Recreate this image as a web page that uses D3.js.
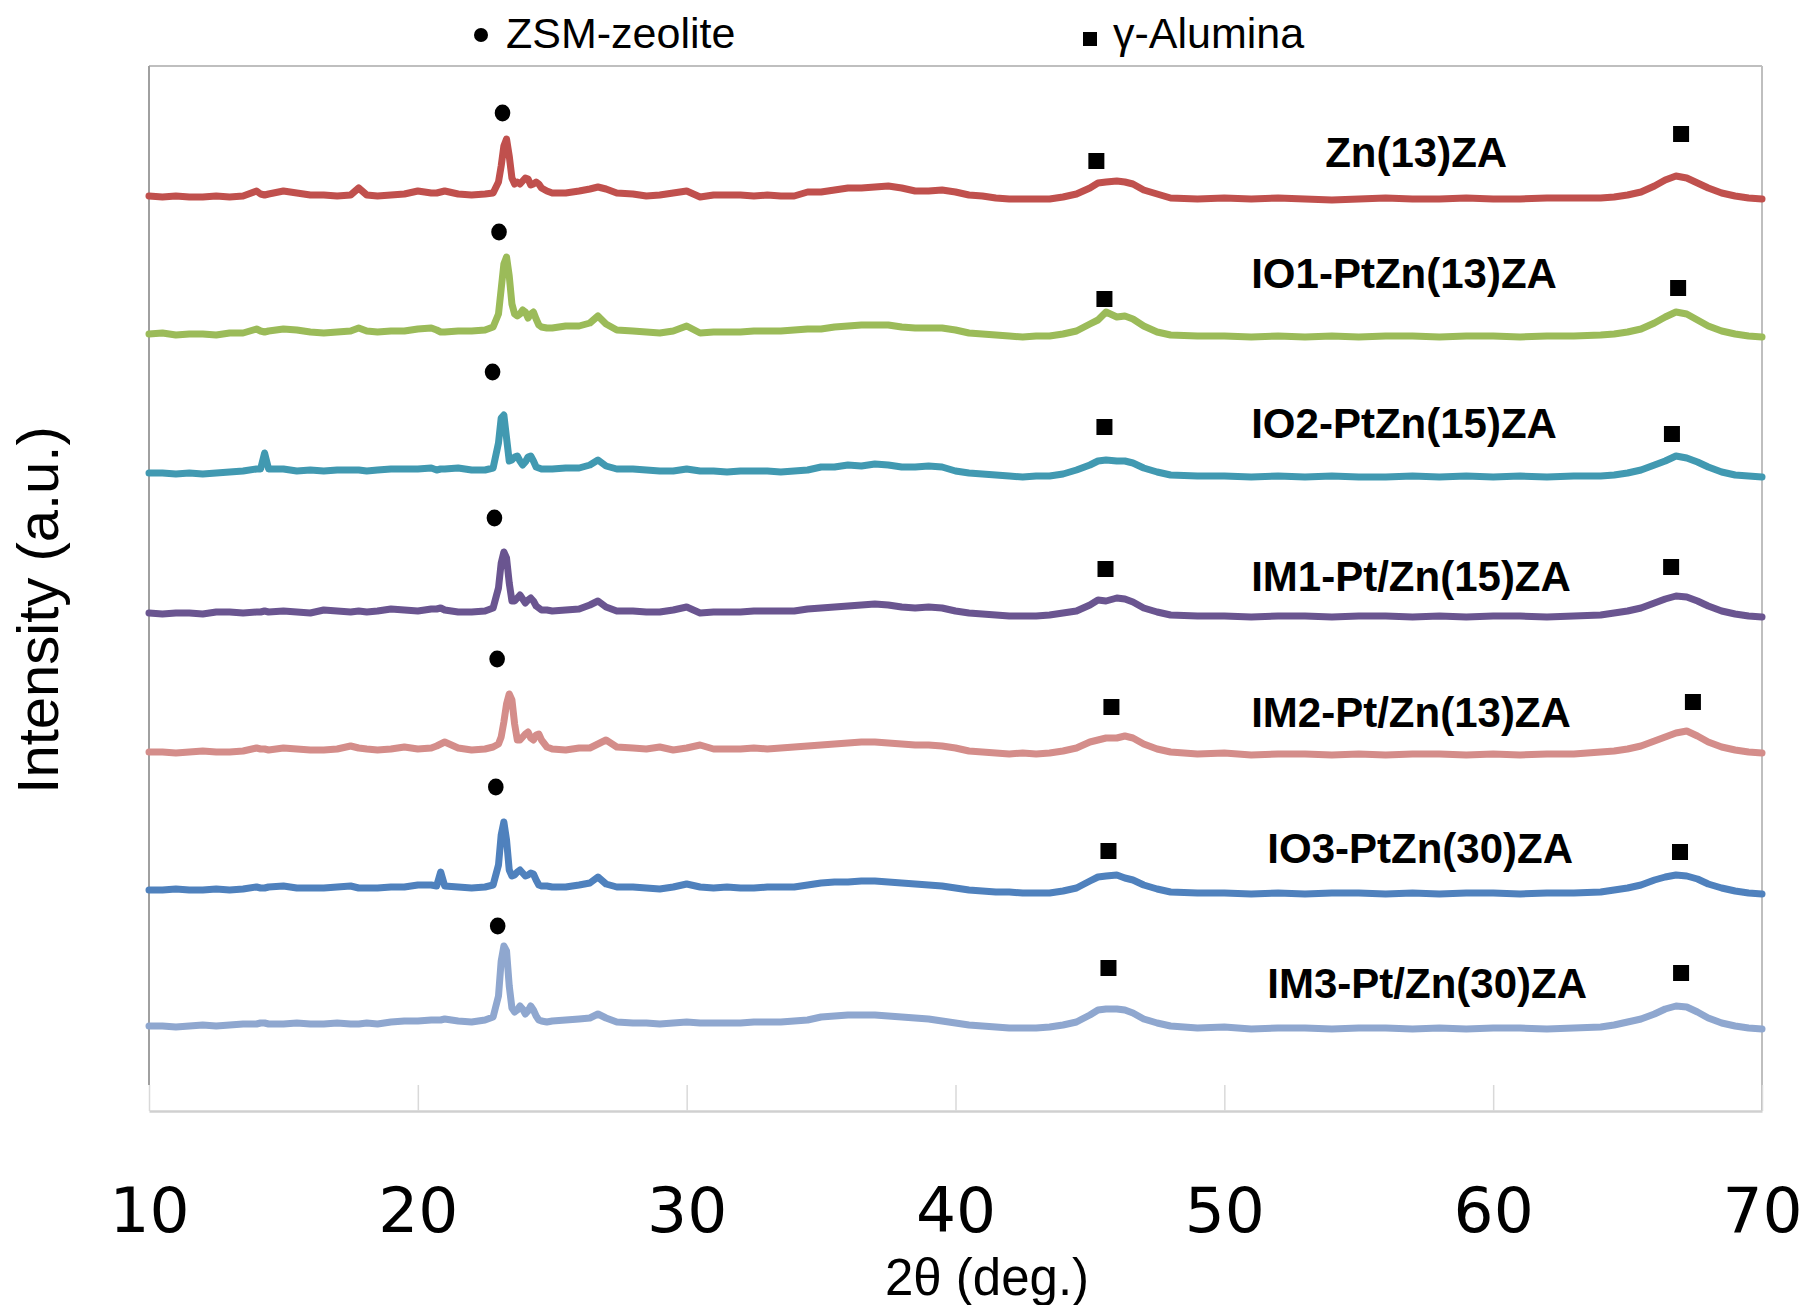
<!DOCTYPE html>
<html>
<head>
<meta charset="utf-8">
<script src="https://cdn.jsdelivr.net/npm/d3@7/dist/d3.min.js"></script>
<style>
  html, body { margin: 0; padding: 0; background: #ffffff; }
  svg { display: block; }
</style>
</head>
<body>
<svg id="chart" width="1812" height="1305"></svg>
<script>
// ---------------- DATA ----------------
const twoTheta = [
  10,10.5,11,11.5,12,12.5,13,13.5,14,
  14.15,14.3,14.45,
  15,15.5,16,16.5,17,17.5,
  17.8,18.1,18.5,
  19,19.5,20,20.5,
  20.7,20.85,21,
  21.5,22,22.5,22.8,
  23,23.1,23.2,23.3,23.4,23.5,23.6,23.7,23.8,23.9,24,24.1,24.2,24.3,24.4,24.5,24.6,
  24.8,25,25.5,26,26.4,26.7,27,27.4,
  28,28.5,29,29.5,30,30.5,31,31.5,32,32.5,33,33.5,34,34.5,35,35.5,36,36.5,37,37.5,38,38.5,39,39.5,40,40.5,41,41.5,42,42.5,43,43.5,44,44.5,
  45,45.3,45.6,46,46.3,46.6,47,47.5,
  48,49,50,51,52,53,54,55,56,57,58,59,60,61,62,63,64,
  64.5,65,65.5,66,66.4,66.8,67.2,67.6,68,68.5,69,69.5,70
];

const xTicks = [10, 20, 30, 40, 50, 60, 70];

const seriesNames = [
  "Zn(13)ZA", "IO1-PtZn(13)ZA", "IO2-PtZn(15)ZA", "IM1-Pt/Zn(15)ZA",
  "IM2-Pt/Zn(13)ZA", "IO3-PtZn(30)ZA", "IM3-Pt/Zn(30)ZA"
];

// vertical stacking offsets (a.u.)
const offsets = [915, 777, 638, 498, 359, 221, 85];

const zn13ZA = [
  0,-1,0,-1,-1,0,-1,0,5,
  2,1,2,
  5,3,1,1,0,1,
  8,1,0,
  1,2,5,3,
  3,4,5,
  2,1,2,3,
  14,30,50,57,40,18,12,14,12,15,18,17,11,12,14,12,8,
  5,3,3,5,7,9,7,3,
  2,0,1,3,5,-1,1,1,1,0,1,0,0,4,4,6,8,8,9,10,8,5,5,6,4,1,0,-2,-3,-3,-3,-3,-1,2,
  8,13,14,15,14,12,6,2,
  -2,-3,-2,-3,-2,-3,-4,-3,-2,-3,-3,-2,-3,-3,-2,-2,-2,
  -1,1,4,10,16,20,18,13,8,3,0,-2,-3
];
const io1PtZn13ZA = [
  0,1,-1,0,0,-1,1,1,5,
  3,2,3,
  5,4,2,1,2,3,
  6,3,2,
  3,3,5,6,
  4,2,2,
  3,3,4,7,
  20,45,70,77,58,30,20,18,20,24,22,16,20,22,15,9,7,
  6,6,8,8,11,18,10,4,
  3,2,1,3,8,1,2,2,2,3,3,3,4,5,5,7,8,9,9,9,7,6,6,6,4,1,0,-1,-2,-3,-2,-2,0,3,
  10,14,22,17,18,15,8,2,
  -1,-2,-2,-3,-2,-3,-2,-3,-2,-2,-3,-2,-2,-3,-2,-2,-1,
  0,2,5,11,17,22,20,14,8,3,0,-2,-3
];
const io2PtZn15ZA = [
  0,0,-1,0,-1,0,1,2,4,
  4,20,4,
  4,2,3,2,3,3,
  3,2,3,
  4,4,4,5,
  3,4,4,
  5,3,3,5,
  30,55,58,35,12,13,16,17,12,8,11,16,17,12,6,5,4,
  4,4,5,5,8,13,7,4,
  4,3,2,2,4,2,2,1,2,2,2,1,2,3,6,6,8,7,9,8,6,6,7,6,2,0,-1,-2,-3,-4,-3,-3,-1,3,
  8,12,13,12,12,10,5,1,
  -2,-3,-3,-4,-3,-4,-3,-4,-4,-3,-4,-3,-4,-3,-4,-3,-3,
  -2,0,3,8,12,17,15,11,6,1,-2,-3,-4
];
const im1PtZn15ZA = [
  0,-1,0,0,-1,1,1,0,1,
  1,2,1,
  2,1,0,3,2,1,
  2,1,2,
  4,3,2,4,
  4,5,3,
  1,1,2,5,
  25,50,61,55,30,12,12,15,18,14,10,13,15,12,7,5,3,
  3,2,3,4,8,12,6,2,
  2,1,1,3,6,0,1,1,1,2,2,2,2,4,5,6,7,8,9,8,6,5,6,5,2,0,-1,-2,-3,-3,-3,-2,0,2,
  8,13,12,15,14,11,5,1,
  -2,-3,-3,-4,-3,-3,-4,-3,-3,-4,-3,-4,-3,-3,-4,-3,-2,
  0,2,5,10,14,17,16,12,7,2,-1,-3,-4
];
const im2PtZn13ZA = [
  0,0,-1,0,1,0,0,1,4,
  3,3,2,
  4,3,2,2,3,6,
  4,3,2,
  3,5,3,4,
  6,8,10,
  4,2,3,5,
  8,15,30,48,58,52,28,12,12,15,18,20,14,12,17,18,12,
  5,3,2,4,4,8,12,5,
  4,3,5,2,4,7,3,3,3,4,3,4,5,6,7,8,9,10,10,9,8,7,7,6,4,1,0,-1,-2,-1,-2,-1,1,4,
  10,12,14,14,16,14,8,3,
  0,-2,-1,-3,-2,-2,-3,-2,-3,-2,-2,-3,-2,-3,-2,-2,0,
  1,3,6,11,15,19,21,16,10,5,2,0,-1
];
const io3PtZn30ZA = [
  0,0,1,0,0,1,0,1,3,
  2,2,3,
  4,2,2,2,3,4,
  2,2,2,
  3,3,5,5,
  4,18,4,
  3,2,3,5,
  25,55,68,50,20,14,15,18,20,17,14,15,17,16,10,5,4,
  4,3,3,5,7,13,6,3,
  3,2,1,3,6,3,2,3,2,2,3,3,3,5,7,8,8,9,9,8,7,6,5,4,2,0,-1,-2,-2,-3,-3,-3,-1,2,
  9,13,14,15,12,10,5,1,
  -2,-3,-3,-4,-3,-4,-3,-3,-4,-3,-4,-3,-3,-4,-3,-3,-2,
  0,2,5,10,13,15,14,11,6,2,-1,-3,-4
];
const im3PtZn30ZA = [
  0,0,-1,0,1,0,1,2,2,
  3,3,2,
  2,3,2,2,3,2,
  2,3,2,
  4,5,5,6,
  6,6,7,
  5,4,6,9,
  30,65,80,75,40,18,14,16,20,17,12,15,20,16,10,6,5,
  4,5,6,7,8,12,8,4,
  3,3,2,3,4,3,3,3,3,4,4,4,5,6,9,10,11,11,11,10,9,8,7,5,3,1,0,-1,-2,-2,-2,-1,1,4,
  11,16,17,17,16,13,7,3,
  0,-2,-1,-3,-2,-2,-3,-2,-2,-3,-2,-3,-2,-2,-3,-2,-1,
  1,4,7,12,17,20,19,14,8,3,0,-2,-3
];

const seriesValues = [zn13ZA, io1PtZn13ZA, io2PtZn15ZA, im1PtZn15ZA, im2PtZn13ZA, io3PtZn30ZA, im3PtZn30ZA];

// phase markers: [2θ, height above series baseline]
const zsmMarks = [[23.15,83],[23.02,102],[22.78,101],[22.85,95],[22.95,93],[22.9,103],[22.97,100]];
const aluminaMarksLow  = [[45.24,35],[45.54,35],[45.54,46],[45.58,44],[45.80,45],[45.69,39],[45.69,58]];
const aluminaMarksHigh = [[66.99,62],[66.88,46],[66.65,39],[66.62,46],[67.43,50],[66.95,38],[66.99,53]];
// series label anchors: [2θ at text start, height of baseline above series baseline]
const labelAnchors = [[53.75,29],[51.0,46],[51.0,35],[51.0,22],[51.0,25],[51.6,27],[51.6,28]];

// ---------------- STYLE ----------------
const colors = ["#c0504d", "#9bbb59", "#4199b1", "#6a5590", "#d48d8a", "#4f81bd", "#8fa7cf"];

const plot = { left: 149, right: 1762, top: 66, bottom: 1111, innerBottom: 1085 };

const svg = d3.select("#chart");
svg.append("rect").attr("width", 1812).attr("height", 1305).attr("fill", "#fff");

const x = d3.scaleLinear().domain([10, 70]).range([plot.left, plot.right]);
const y = d3.scaleLinear().domain([0, plot.bottom - plot.top]).range([plot.bottom, plot.top]);

// frame
svg.append("line").attr("x1", plot.left).attr("x2", plot.right).attr("y1", plot.top).attr("y2", plot.top)
  .attr("stroke", "#bfbfbf").attr("stroke-width", 2);
svg.append("line").attr("x1", plot.right).attr("x2", plot.right).attr("y1", plot.top).attr("y2", plot.bottom)
  .attr("stroke", "#bfbfbf").attr("stroke-width", 2);
svg.append("line").attr("x1", plot.left).attr("x2", plot.left).attr("y1", plot.top).attr("y2", plot.innerBottom)
  .attr("stroke", "#a0a0a0").attr("stroke-width", 2);

// x axis
const xAxis = d3.axisBottom(x).tickValues(xTicks).tickFormat(d3.format("d"))
  .tickSizeInner(-(plot.bottom - plot.innerBottom)).tickSizeOuter(0).tickPadding(76);
const gx = svg.append("g").attr("transform", `translate(0,${plot.bottom})`).call(xAxis);
gx.select(".domain").attr("stroke", "#d0d0d0").attr("stroke-width", 2.5);
gx.selectAll(".tick line").attr("stroke", "#d9d9d9").attr("stroke-width", 1.5);
gx.selectAll(".tick text").attr("fill", "#000").style("font-family", "'DejaVu Sans', Verdana, sans-serif")
  .style("font-size", "63px");

// traces
const line = d3.line().curve(d3.curveLinear);
seriesValues.forEach((vals, i) => {
  const pts = twoTheta.map((t, k) => [x(t), y(offsets[i] + vals[k])]);
  svg.append("path").attr("d", line(pts)).attr("fill", "none")
    .attr("stroke", colors[i]).attr("stroke-width", 7)
    .attr("stroke-linejoin", "round").attr("stroke-linecap", "round");
});

// markers
zsmMarks.forEach((m, i) => {
  svg.append("ellipse").attr("cx", x(m[0])).attr("cy", y(offsets[i] + m[1]))
    .attr("rx", 7.8).attr("ry", 8.5).attr("fill", "#000");
});
const sq = 16;
[aluminaMarksLow, aluminaMarksHigh].forEach(arr => {
  arr.forEach((m, i) => {
    svg.append("rect").attr("x", x(m[0]) - sq / 2).attr("y", y(offsets[i] + m[1]) - sq / 2)
      .attr("width", sq).attr("height", sq).attr("fill", "#000");
  });
});

// series labels
seriesNames.forEach((name, i) => {
  svg.append("text").attr("x", x(labelAnchors[i][0])).attr("y", y(offsets[i] + labelAnchors[i][1]))
    .text(name).attr("fill", "#000")
    .style("font-family", "'Liberation Sans', Arial, sans-serif").style("font-weight", "bold")
    .style("font-size", "42px");
});

// legend
svg.append("circle").attr("cx", 481).attr("cy", 35).attr("r", 7).attr("fill", "#000");
svg.append("text").attr("x", 506).attr("y", 48).text("ZSM-zeolite")
  .style("font-family", "'Liberation Sans', Arial, sans-serif").style("font-size", "43px");
svg.append("rect").attr("x", 1083).attr("y", 32).attr("width", 14).attr("height", 14).attr("fill", "#000");
svg.append("text").attr("x", 1113).attr("y", 48).text("γ-Alumina")
  .style("font-family", "'Liberation Sans', Arial, sans-serif").style("font-size", "43px");

// axis titles
svg.append("text").attr("x", 987).attr("y", 1295).attr("text-anchor", "middle").text("2θ (deg.)")
  .style("font-family", "'Liberation Sans', Arial, sans-serif").style("font-size", "51px");
svg.append("text").attr("transform", "translate(58,610) rotate(-90)").attr("text-anchor", "middle")
  .text("Intensity (a.u.)")
  .style("font-family", "'Liberation Sans', Arial, sans-serif").style("font-size", "58px");
</script>
</body>
</html>
